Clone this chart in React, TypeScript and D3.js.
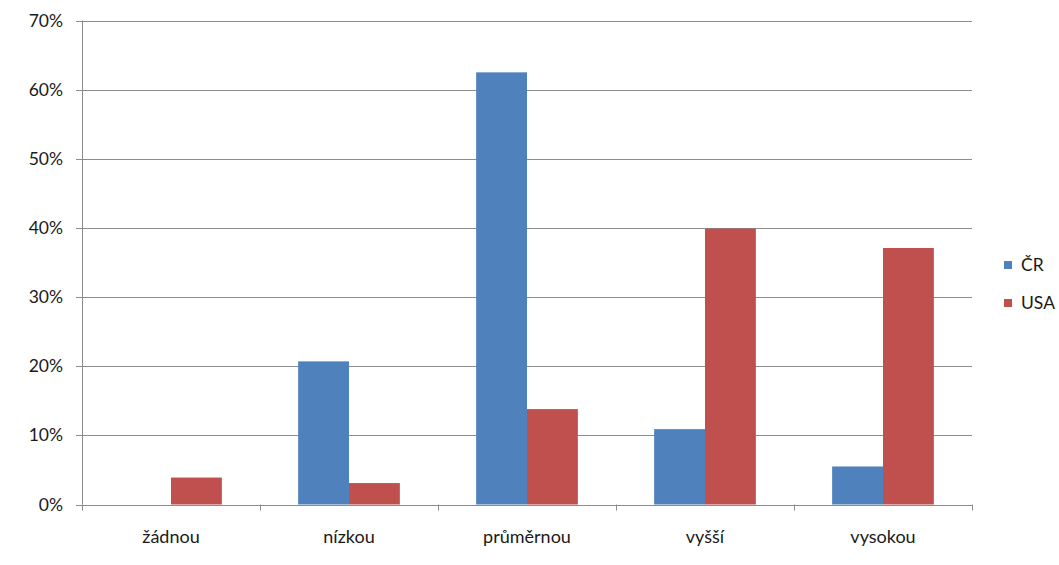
import React from "react";
import * as d3 from "d3";

const categories = ["žádnou", "nízkou", "průměrnou", "vyšší", "vysokou"];
const seriesNames = ["ČR", "USA"];
const crValues = [0, 0.207, 0.625, 0.109, 0.055];
const usaValues = [0.039, 0.031, 0.138, 0.399, 0.371];
const yTicks = [0, 0.1, 0.2, 0.3, 0.4, 0.5, 0.6, 0.7];
const colors = ["#4F81BD", "#C0504D"];

const W = 1059;
const H = 565;
const margin = { left: 82, right: 87, top: 20.5, bottom: 60.5 };
const FONT = "Lato, 'Open Sans', sans-serif";

export default function App() {
  const x0 = d3
    .scaleBand<string>()
    .domain(categories)
    .range([margin.left, W - margin.right])
    .paddingInner(0)
    .paddingOuter(0);
  const x1 = d3
    .scaleBand<string>()
    .domain(seriesNames)
    .range([0, x0.bandwidth()])
    .paddingOuter(0.75)
    .paddingInner(0);
  const y = d3.scaleLinear().domain([0, 0.7]).range([H - margin.bottom, margin.top]);
  const series = [crValues, usaValues];
  const pct = d3.format(".0%");
  const boundaries = d3.range(categories.length + 1).map(
    (i) => margin.left + i * x0.bandwidth()
  );

  return (
    <svg
      width={W}
      height={H}
      style={{ position: "absolute", left: 0, top: 0, background: "#fff" }}
      fontFamily={FONT}
    >
      {/* horizontal gridlines + y tick labels */}
      {yTicks.map((t) => (
        <g key={t}>
          <line
            x1={margin.left - 6}
            x2={W - margin.right}
            y1={Math.round(y(t)) + 0.5}
            y2={Math.round(y(t)) + 0.5}
            stroke="#8c8c8c"
            strokeWidth={1}
          />
          <text
            x={63}
            y={y(t)}
            dy="0.35em"
            textAnchor="end"
            fontSize={17.5}
            fill="#1a1a1a"
          >
            {pct(t)}
          </text>
        </g>
      ))}
      {/* y axis line */}
      <line
        x1={margin.left + 0.5}
        x2={margin.left + 0.5}
        y1={margin.top}
        y2={y(0)}
        stroke="#8c8c8c"
      />
      {/* bars */}
      {categories.map((c, i) => (
        <g key={c} transform={`translate(${x0(c)},0)`}>
          {seriesNames.map((s, j) => (
            <rect
              key={s}
              x={x1(s)}
              width={x1.bandwidth()}
              y={y(series[j][i])}
              height={y(0) - y(series[j][i])}
              fill={colors[j]}
            />
          ))}
        </g>
      ))}
      {/* category tick marks */}
      {boundaries.map((b, i) => (
        <line
          key={i}
          x1={Math.round(b) + 0.5}
          x2={Math.round(b) + 0.5}
          y1={y(0)}
          y2={y(0) + 6}
          stroke="#8c8c8c"
        />
      ))}
      {/* category labels */}
      {categories.map((c) => (
        <text
          key={c}
          x={(x0(c) as number) + x0.bandwidth() / 2}
          y={543}
          textAnchor="middle"
          fontSize={18}
          fill="#1a1a1a"
        >
          {c}
        </text>
      ))}
      {/* legend */}
      {seriesNames.map((s, j) => (
        <g key={s} transform={`translate(1004,${265 + j * 38})`}>
          <rect x={0} y={-4} width={8} height={8} fill={colors[j]} />
          <text x={17} y={0} dy="0.35em" fontSize={17.5} fill="#1a1a1a">
            {s}
          </text>
        </g>
      ))}
    </svg>
  );
}
